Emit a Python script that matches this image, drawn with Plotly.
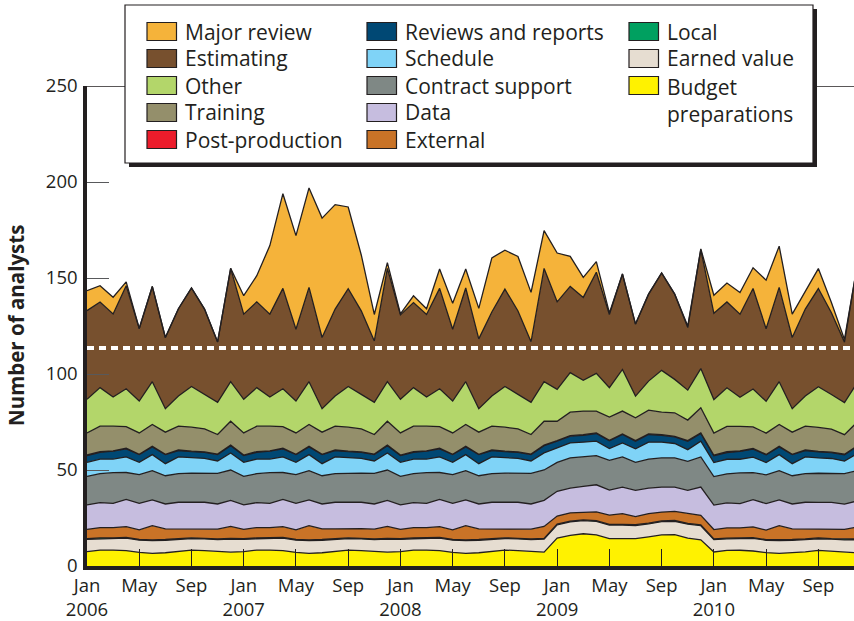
import plotly.graph_objects as go

# ---------------- data ----------------
months = list(range(60))  # Jan 2006 ... Dec 2010
tick_pos = list(range(0, 60, 4))
tick_text = ["Jan<br>2006", "May", "Sep", "Jan<br>2007", "May", "Sep",
             "Jan<br>2008", "May", "Sep", "Jan<br>2009", "May", "Sep",
             "Jan<br>2010", "May", "Sep"]

budget = [7.5, 8.3, 8.3, 8.0, 7.1, 6.6, 6.9, 7.5, 8.3, 8.0, 7.5, 7.2,
          7.5, 8.3, 8.3, 8.0, 7.1, 6.6, 6.9, 7.5, 8.3, 8.0, 7.5, 7.2,
          7.5, 8.3, 8.3, 8.0, 7.1, 6.6, 6.9, 7.5, 8.3, 8.0, 7.5, 7.2,
          14.5, 16.0, 16.8, 16.2, 14.3, 14.2, 14.3, 15.2, 16.2, 16.3, 14.5, 13.6,
          7.3, 8.1, 8.2, 7.8, 7.0, 6.6, 6.9, 7.4, 8.1, 7.8, 7.2, 6.8]
earned_value = [6.4, 5.9, 6.0, 6.5, 6.4, 6.6, 6.5, 6.3, 6.0, 6.1, 6.2, 6.8,
                6.4, 5.9, 6.0, 6.5, 6.4, 6.6, 6.5, 6.3, 6.0, 6.1, 6.2, 6.8,
                6.4, 5.9, 6.0, 6.5, 6.4, 6.6, 6.5, 6.3, 6.0, 6.1, 6.2, 6.8,
                6.9, 7.0, 6.8, 7.0, 7.0, 7.1, 6.8, 6.7, 6.9, 7.0, 7.3, 7.4,
                6.5, 6.0, 6.0, 6.6, 6.4, 6.6, 6.5, 6.4, 6.1, 6.2, 6.4, 6.9]
local = [0.3, 0.4, 0.3, 0.4, 0.3, 0.4, 0.4, 0.3, 0.4, 0.3, 0.4, 0.4,
         0.3, 0.4, 0.3, 0.4, 0.3, 0.4, 0.4, 0.3, 0.4, 0.3, 0.4, 0.4,
         0.3, 0.4, 0.3, 0.4, 0.3, 0.4, 0.4, 0.3, 0.4, 0.3, 0.4, 0.4,
         0.4, 0.4, 0.4, 0.4, 0.4, 0.4, 0.4, 0.4, 0.4, 0.4, 0.4, 0.4,
         0.3, 0.4, 0.3, 0.4, 0.3, 0.4, 0.4, 0.3, 0.4, 0.3, 0.4, 0.4]
external = [4.9, 5.4, 5.4, 5.6, 5.0, 7.4, 5.5, 5.2, 4.8, 5.1, 5.1, 6.2,
            4.9, 5.4, 5.4, 5.6, 5.0, 7.4, 5.5, 5.2, 4.8, 5.1, 5.1, 6.2,
            4.9, 5.4, 5.4, 5.6, 5.0, 7.4, 5.5, 5.2, 4.8, 5.1, 5.1, 6.2,
            4.2, 4.3, 4.1, 4.6, 4.8, 5.6, 4.2, 5.0, 4.6, 4.8, 5.2, 5.0,
            4.9, 5.4, 5.4, 5.6, 5.0, 7.4, 5.5, 5.2, 4.8, 5.1, 5.1, 6.2]
data_ = [12.7, 13.0, 12.6, 14.2, 13.8, 13.4, 13.0, 13.9, 13.7, 13.7, 13.1, 13.6,
         12.7, 13.0, 12.6, 14.2, 13.8, 13.4, 13.0, 13.9, 13.7, 13.7, 13.1, 13.6,
         12.7, 13.0, 12.6, 14.2, 13.8, 13.4, 13.0, 13.9, 13.7, 13.7, 13.1, 13.6,
         12.9, 12.9, 13.4, 14.1, 13.0, 13.8, 13.7, 13.3, 13.0, 12.6, 12.0, 14.7,
         12.7, 13.0, 12.6, 14.2, 13.8, 13.4, 13.0, 13.9, 13.7, 13.7, 13.1, 13.6]
contract = [14.9, 15.1, 16.0, 14.0, 15.0, 15.3, 14.7, 14.9, 15.2, 15.2, 15.9, 15.8,
            14.9, 15.1, 16.0, 14.0, 15.0, 15.3, 14.7, 14.9, 15.2, 15.2, 15.9, 15.8,
            14.9, 15.1, 16.0, 14.0, 15.0, 15.3, 14.7, 14.9, 15.2, 15.2, 15.9, 15.8,
            15.1, 15.7, 15.3, 15.2, 15.5, 15.7, 14.6, 15.1, 15.2, 15.2, 15.1, 15.7,
            14.9, 15.1, 16.0, 14.0, 15.0, 15.3, 14.7, 14.9, 15.2, 15.2, 15.9, 15.8]
schedule = [7.3, 7.6, 7.1, 8.1, 6.4, 8.3, 6.3, 8.7, 8.0, 7.7, 6.5, 8.9,
            7.3, 7.6, 7.1, 8.1, 6.4, 8.3, 6.3, 8.7, 8.0, 7.7, 6.5, 8.9,
            7.3, 7.6, 7.1, 8.1, 6.4, 8.3, 6.3, 8.7, 8.0, 7.7, 6.5, 8.9,
            7.5, 7.8, 7.7, 7.5, 6.2, 7.3, 7.0, 8.8, 8.2, 7.5, 6.1, 8.2,
            7.3, 7.6, 7.1, 8.1, 6.4, 8.3, 6.3, 8.7, 8.0, 7.7, 6.5, 8.9]
reviews = [3.5, 3.5, 4.1, 4.2, 4.0, 4.0, 4.7, 3.3, 3.2, 3.1, 3.3, 3.8,
           3.5, 3.5, 4.1, 4.2, 4.0, 4.0, 4.7, 3.3, 3.2, 3.1, 3.3, 3.8,
           3.5, 3.5, 4.1, 4.2, 4.0, 4.0, 4.7, 3.3, 3.2, 3.1, 3.3, 3.8,
           3.5, 3.5, 3.6, 4.0, 4.0, 4.4, 4.0, 4.0, 3.6, 3.4, 4.4, 4.0,
           3.5, 3.5, 4.1, 4.2, 4.0, 4.0, 4.7, 3.3, 3.2, 3.1, 3.3, 3.8]
post_production = [0.3, 0.4, 0.2, 0.3, 0.2, 0.3, 0.2, 0.3, 0.2, 0.2, 0.3, 0.3,
                   0.3, 0.4, 0.2, 0.3, 0.2, 0.3, 0.2, 0.3, 0.2, 0.2, 0.3, 0.3,
                   0.3, 0.4, 0.2, 0.3, 0.2, 0.3, 0.2, 0.3, 0.2, 0.2, 0.3, 0.3,
                   0.3, 0.3, 0.3, 0.3, 0.3, 0.3, 0.3, 0.3, 0.3, 0.3, 0.3, 0.3,
                   0.3, 0.4, 0.2, 0.3, 0.2, 0.3, 0.2, 0.3, 0.2, 0.2, 0.3, 0.3]
training = [11.5, 13.2, 12.8, 11.3, 11.1, 11.4, 11.5, 12.4, 12.5, 12.0, 10.2, 12.4,
            11.5, 13.2, 12.8, 11.3, 11.1, 11.4, 11.5, 12.4, 12.5, 12.0, 10.2, 12.4,
            11.5, 13.2, 12.8, 11.3, 11.1, 11.4, 11.5, 12.4, 12.5, 12.0, 10.2, 12.4,
            10.1, 12.2, 12.3, 11.4, 12.1, 11.9, 11.9, 12.4, 11.7, 12.3, 10.7, 13.1,
            11.5, 13.2, 12.8, 11.3, 11.1, 11.4, 11.5, 12.4, 12.5, 12.0, 10.2, 12.4]
other = [17.5, 20.1, 15.2, 19.7, 16.6, 22.3, 12.2, 15.7, 21.2, 18.0, 16.7, 20.6,
         17.5, 20.1, 15.2, 19.7, 16.6, 22.3, 12.2, 15.7, 21.2, 18.0, 16.7, 20.6,
         17.5, 20.1, 15.2, 19.7, 16.6, 22.3, 12.2, 15.7, 21.2, 18.0, 16.7, 20.6,
         16.6, 20.6, 16.0, 19.6, 15.3, 21.7, 11.3, 15.1, 21.8, 17.4, 15.6, 20.4,
         17.5, 20.1, 15.2, 19.7, 16.6, 22.3, 12.2, 15.7, 21.2, 18.0, 16.7, 20.6]
estimating = [46.2, 44.6, 43.3, 53.7, 37.8, 49.6, 37.1, 45.5, 51.3, 44.4, 31.5, 59.0,
              44.4, 44.7, 43.2, 52.3, 37.4, 49.1, 37.1, 45.3, 50.9, 43.5, 32.0, 59.0,
              44.0, 44.3, 43.0, 52.3, 37.4, 48.8, 36.4, 43.8, 50.7, 43.4, 31.6, 59.0,
              45.6, 44.9, 43.2, 52.7, 38.1, 49.7, 37.5, 45.3, 50.7, 44.4, 32.6, 62.0,
              44.9, 44.7, 43.2, 52.3, 37.8, 49.1, 37.1, 45.3, 51.1, 42.6, 31.5, 62.0]
major_review = [10.4, 8.5, 8.7, 2.0, 0, 0, 0, 0, 0, 0, 0, 0,
                9.6, 13.6, 35.7, 49.3, 48.8, 51.8, 62.2, 54.4, 42.6, 29.1, 13.8, 3.0,
                0.5, 3.5, 3.0, 10.1, 13.6, 9.9, 15.9, 28.2, 20.3, 28.4, 25.7, 19.7,
                25.4, 15.7, 10.4, 5.5, 0.8, 0, 0, 0, 0, 0, 0.8, 0.4,
                9.4, 9.9, 11.3, 10.8, 25.3, 21.5, 12.2, 9.6, 10.4, 5.3, 1.4, 0]
reference_level = 113.5

# stacking order, bottom to top
series = [
    ("Budget preparations", budget, "#fff200"),
    ("Earned value", earned_value, "#e6ddd1"),
    ("Local", local, "#00a060"),
    ("External", external, "#c97327"),
    ("Data", data_, "#c6bddf"),
    ("Contract support", contract, "#7f8885"),
    ("Schedule", schedule, "#7fd3f7"),
    ("Reviews and reports", reviews, "#004874"),
    ("Post-production", post_production, "#ec1c2b"),
    ("Training", training, "#948f6b"),
    ("Other", other, "#b3d66a"),
    ("Estimating", estimating, "#77502e"),
    ("Major review", major_review, "#f5b33a"),
]
colors = {n: c for n, _, c in series}

DARK = "#231f20"
FONT = "Open Sans"

fig = go.Figure()
for name, vals, color in series:
    fig.add_trace(go.Scatter(
        x=months, y=vals, name=name, stackgroup="one", mode="lines",
        line=dict(color=DARK, width=1.3), fillcolor=color, showlegend=False))

# ---------------- layout helpers (pixel -> paper) ----------------
L, R, T, B = 87, 854, 86, 566
def px(x):
    return (x - L) / (R - L)
def py(y):
    return (B - y) / (B - T)

shapes = []
annotations = []

# dashed white reference line
shapes.append(dict(type="line", xref="paper", yref="y", x0=0, x1=1,
                   y0=reference_level, y1=reference_level,
                   line=dict(color="white", width=4, dash="7px,5px"), layer="above"))
# top frame line at 250
shapes.append(dict(type="line", xref="paper", yref="y", x0=0, x1=1, y0=250, y1=250,
                   line=dict(color=DARK, width=1.3), layer="above"))

# legend box with drop shadow
bx0, by0, bx1, by1 = 125, 5, 813, 163
shapes.append(dict(type="rect", xref="paper", yref="paper",
                   x0=px(bx0 + 4), x1=px(bx1 + 4), y0=py(by0 + 4), y1=py(by1 + 4),
                   fillcolor=DARK, line=dict(width=0), layer="above"))
shapes.append(dict(type="rect", xref="paper", yref="paper",
                   x0=px(bx0), x1=px(bx1), y0=py(by0), y1=py(by1),
                   fillcolor="white", line=dict(color=DARK, width=1.2), layer="above"))

legend_cols = [
    (147, ["Major review", "Estimating", "Other", "Training", "Post-production"]),
    (367, ["Reviews and reports", "Schedule", "Contract support", "Data", "External"]),
    (629, ["Local", "Earned value", "Budget preparations"]),
]
row_y = [31.5, 58.5, 85.5, 112.5, 139.5]
sw_w, sw_h = 29.5, 18
LEG_SIZE = 21
for sx, names in legend_cols:
    for r, name in enumerate(names):
        cy = row_y[r]
        shapes.append(dict(type="rect", xref="paper", yref="paper",
                           x0=px(sx), x1=px(sx + sw_w),
                           y0=py(cy - sw_h / 2), y1=py(cy + sw_h / 2),
                           fillcolor=colors[name], line=dict(color=DARK, width=1.2),
                           layer="above"))
        if name == "Budget preparations":
            annotations.append(dict(xref="paper", yref="paper", x=px(sx + 36),
                                    y=py(cy - 14.5), xanchor="left", yanchor="top",
                                    text="Budget<br>preparations", showarrow=False,
                                    align="left",
                                    font=dict(family=FONT, size=LEG_SIZE, color=DARK)))
        else:
            annotations.append(dict(xref="paper", yref="paper", x=px(sx + 36),
                                    y=py(cy), xanchor="left", yanchor="middle",
                                    text=name, showarrow=False,
                                    font=dict(family=FONT, size=LEG_SIZE, color=DARK)))

# y-axis title
annotations.append(dict(xref="paper", yref="paper", x=px(16), y=py(326),
                        text="<b>Number of analysts</b>", textangle=-90,
                        showarrow=False, xanchor="center", yanchor="middle",
                        font=dict(family=FONT, size=20.5, color=DARK)))

fig.update_layout(
    width=854, height=621,
    margin=dict(l=L, r=854 - R, t=T, b=621 - B, pad=0),
    paper_bgcolor="white", plot_bgcolor="white",
    font=dict(family=FONT, size=18, color=DARK),
    showlegend=False,
    shapes=shapes, annotations=annotations,
    xaxis=dict(range=[0, 58.73], tickmode="array", tickvals=tick_pos, ticktext=tick_text,
               ticks="inside", ticklen=17, tickwidth=1.2, tickcolor=DARK,
               showline=True, linewidth=3.5, linecolor=DARK,
               showgrid=False, zeroline=False, layer="above traces",
               tickfont=dict(family=FONT, size=18.5, color=DARK)),
    yaxis=dict(range=[0, 250], tickmode="array", tickvals=[0, 50, 100, 150, 200, 250],
               ticks="inside", ticklen=22, tickwidth=1.3, tickcolor="#58595b",
               showline=True, linewidth=3.5, linecolor=DARK,
               showgrid=False, zeroline=False, layer="above traces",
               ticklabelstandoff=2,
               tickfont=dict(family=FONT, size=18.5, color=DARK)),
)

fig.write_html("out.html",
               config={"displayModeBar": False},
               post_script="document.body.style.margin='0px';"
                           "document.body.style.overflow='hidden';")
